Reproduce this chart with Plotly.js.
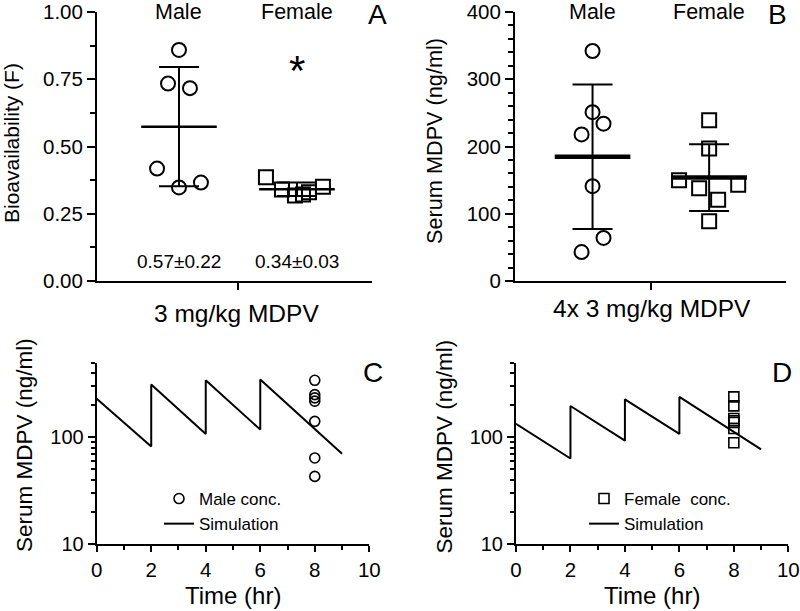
<!DOCTYPE html>
<html><head><meta charset="utf-8">
<script src="https://cdn.plot.ly/plotly-3.0.1.min.js"></script>
<style>html,body{margin:0;padding:0;background:#fff}#chart{width:800px;height:611px}</style>
</head><body><div id="chart"></div>
<script>
// ---------- data ----------
const groups = ['Male', 'Female'];
// Panel A: bioavailability (F) after 3 mg/kg MDPV
const bioMale = [0.859, 0.734, 0.717, 0.418, 0.366, 0.348];
const bioFemale = [0.386, 0.340, 0.318, 0.322, 0.330, 0.350];
const bioSummary = ['0.57±0.22', '0.34±0.03'];
// Panel B: serum MDPV (ng/ml) after 4x 3 mg/kg
const serumMale = [342, 251, 234, 218, 141, 64, 43];
const serumFemale = [239, 197, 150, 138, 121, 143, 89];
// horizontal scatter of dots inside each group (category units)
const jitBioMale = [0, -0.093, 0.093, -0.186, 0.186, 0];
const jitBioFemale = [-0.263, -0.127, -0.017, 0.051, 0.102, 0.22];
const jitSerumMale = [0, 0, 0.094, -0.094, 0, 0.094, -0.094];
const jitSerumFemale = [0, 0, -0.258, -0.086, 0.077, 0.249, 0];
// Panels C, D: simulated concentration-time profiles
const simTime = [0, 2, 2, 4, 4, 6, 6, 9];
const simMale = [230, 82, 313, 107.5, 343, 118, 348, 70];
const simFemale = [134, 63.3, 196.5, 93, 227, 107.5, 239, 77];
const sampleTime = 8;
const yTicksA = [0, 0.25, 0.5, 0.75, 1];
const xTicksCD = [0, 2, 4, 6, 8, 10];

// ---------- helpers ----------
const mean = a => a.reduce((s, v) => s + v, 0) / a.length;
const sd = a => { const m = mean(a); return Math.sqrt(a.reduce((s, v) => s + (v - m) * (v - m), 0) / (a.length - 1)); };
const PX = x => x / 800, PY = y => 1 - y / 611;
const FONT = 'Liberation Sans, Arial, sans-serif';
const K = '#000';

function dots(vals, jit, pos, sym, xa, ya, size) {
  return {x: jit.map(j => pos + j), y: vals, xaxis: xa, yaxis: ya, type: 'scatter', mode: 'markers',
    showlegend: false, hoverinfo: 'skip', cliponaxis: false,
    marker: {symbol: sym, size: size, color: K, line: {color: K, width: 2}}};
}
function meanSd(a, b, xa, ya, lw) {
  return {x: [1, 2], y: [mean(a), mean(b)], xaxis: xa, yaxis: ya, type: 'scatter', mode: 'markers',
    showlegend: false, hoverinfo: 'skip', cliponaxis: false,
    marker: {symbol: 'line-ew', size: 54, color: K, line: {color: K, width: lw}},
    error_y: {type: 'data', array: [sd(a), sd(b)], visible: true, color: K, thickness: 2, width: 20}};
}

const traces = [
  dots(bioMale, jitBioMale, 1, 'circle-open', 'x', 'y', 14),
  dots(bioFemale, jitBioFemale, 2, 'square-open', 'x', 'y', 14),
  meanSd(bioMale, bioFemale, 'x', 'y', 2.5),
  dots(serumMale, jitSerumMale, 1, 'circle-open', 'x2', 'y2', 14),
  dots(serumFemale, jitSerumFemale, 2, 'square-open', 'x2', 'y2', 14),
  meanSd(serumMale, serumFemale, 'x2', 'y2', 4.5),
  {x: serumMale.map(() => sampleTime), y: serumMale, xaxis: 'x3', yaxis: 'y3', type: 'scatter', mode: 'markers',
   name: 'Male conc.', legend: 'legend', cliponaxis: false,
   marker: {symbol: 'circle-open', size: 10, color: K, line: {color: K, width: 1.6}}},
  {x: simTime, y: simMale, xaxis: 'x3', yaxis: 'y3', type: 'scatter', mode: 'lines',
   name: 'Simulation', legend: 'legend', line: {color: K, width: 2}},
  {x: serumFemale.map(() => sampleTime), y: serumFemale, xaxis: 'x4', yaxis: 'y4', type: 'scatter', mode: 'markers',
   name: 'Female  conc.', legend: 'legend2', cliponaxis: false,
   marker: {symbol: 'square-open', size: 10, color: K, line: {color: K, width: 1.6}}},
  {x: simTime, y: simFemale, xaxis: 'x4', yaxis: 'y4', type: 'scatter', mode: 'lines',
   name: 'Simulation', legend: 'legend2', line: {color: K, width: 2}}
];

const baseAxis = {showline: true, linecolor: K, linewidth: 2, showgrid: false, zeroline: false,
  ticks: 'outside', tickcolor: K, tickwidth: 2, ticklen: 7, fixedrange: true, mirror: false,
  ticklabeloverflow: 'allow'};
const catX = (dom, rng) => Object.assign({}, baseAxis, {domain: dom, range: rng, tickvals: [1.5], ticktext: [''], ticklen: 7});
const logY = (anchor) => Object.assign({}, baseAxis, {type: 'log', range: [1, Math.log10(500)],
  domain: [PY(544), PY(362.7)], anchor: anchor, tickvals: [10, 100], ticktext: ['10', '100'], ticklen: 7,
  tickfont: {size: 20},
  minor: {tickvals: [20, 30, 40, 50, 60, 70, 80, 90, 200, 300, 400, 500], ticks: 'outside', ticklen: 4, tickwidth: 2, tickcolor: K}});
const timeX = (dom, anchor) => Object.assign({}, baseAxis, {domain: dom, range: [0, 10], anchor: anchor,
  tickvals: xTicksCD, ticklen: 6, tickfont: {size: 20.5},
  minor: {tickvals: [1, 3, 5, 7, 9], ticks: 'outside', ticklen: 4, tickwidth: 2, tickcolor: K}});

const ann = (text, x, y, size, extra) => Object.assign({text: text, x: x, y: y, xref: 'paper', yref: 'paper',
  showarrow: false, xanchor: 'center', yanchor: 'middle', font: {size: size, color: K, family: FONT}}, extra || {});

const annotations = [
  ann(groups[0], 1, PY(12.5), 21.5, {xref: 'x'}),
  ann(groups[1], 2, PY(12.5), 21.5, {xref: 'x'}),
  ann(groups[0], 1, PY(12.5), 21.5, {xref: 'x2'}),
  ann(groups[1], 2, PY(12.5), 21.5, {xref: 'x2'}),
  ann(bioSummary[0], 1, PY(261), 19, {xref: 'x'}),
  ann(bioSummary[1], 2, PY(261), 19, {xref: 'x'}),
  ann('*', 2, PY(70), 42, {xref: 'x'}),
  ann('A', PX(377), PY(15), 28),
  ann('B', PX(777), PY(15), 28),
  ann('C', PX(373), PY(372), 28),
  ann('D', PX(782), PY(372), 28),
  ann('Bioavailability (F)', PX(11), PY(143), 21, {textangle: -90}),
  ann('Serum MDPV (ng/ml)', PX(434), PY(141), 21.7, {textangle: -90}),
  ann('Serum MDPV (ng/ml)', PX(25), PY(445), 22.5, {textangle: -90}),
  ann('Serum MDPV (ng/ml)', PX(444), PY(446.5), 22.5, {textangle: -90}),
  ann('3 mg/kg MDPV', PX(236), PY(313), 24.5),
  ann('4x 3 mg/kg MDPV', PX(652), PY(308), 24.5),
  ann('Time (hr)', PX(233), PY(595), 24),
  ann('Time (hr)', PX(652), PY(595), 24)
];

const legendBase = {xanchor: 'left', yanchor: 'top', bgcolor: 'rgba(0,0,0,0)', borderwidth: 0,
  font: {size: 17, color: K, family: FONT}, tracegroupgap: 0, itemclick: false, itemdoubleclick: false};

const layout = {
  width: 800, height: 611, margin: {l: 0, r: 0, t: 0, b: 0}, paper_bgcolor: '#fff', plot_bgcolor: '#fff',
  font: {family: FONT, color: K, size: 20},
  xaxis: catX([PX(97), PX(372)], [0.305, 2.636]),
  yaxis: Object.assign({}, baseAxis, {domain: [PY(281), PY(12)], range: [0, 1], tickvals: yTicksA, tickformat: '.2f',
    ticklen: 8, tickfont: {size: 20.5},
    minor: {tickvals: [0.125, 0.375, 0.625, 0.875], ticks: 'outside', ticklen: 5, tickwidth: 2, tickcolor: K}}),
  xaxis2: Object.assign(catX([PX(515), PX(786)], [0.335, 2.659]), {anchor: 'y2'}),
  yaxis2: Object.assign({}, baseAxis, {domain: [PY(281), PY(12)], range: [0, 400], anchor: 'x2', dtick: 100,
    ticklen: 8, tickfont: {size: 20.5},
    minor: {dtick: 20, ticks: 'outside', ticklen: 5, tickwidth: 2, tickcolor: K}}),
  xaxis3: timeX([PX(96.7), PX(369.3)], 'y3'),
  yaxis3: logY('x3'),
  xaxis4: timeX([PX(516), PX(788.3)], 'y4'),
  yaxis4: logY('x4'),
  legend: Object.assign({}, legendBase, {x: PX(159), y: PY(481)}),
  legend2: Object.assign({}, legendBase, {x: PX(584), y: PY(481)}),
  annotations: annotations,
  showlegend: true
};

Plotly.newPlot('chart', traces, layout, {displayModeBar: false, staticPlot: true});
</script>
</body></html>
